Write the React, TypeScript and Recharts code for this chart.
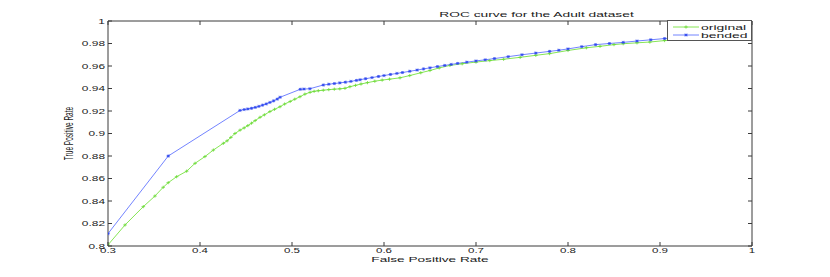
import React from "react";
import { LineChart, Line, XAxis, YAxis, ReferenceArea, Legend } from "recharts";

const xTicks = [0.3, 0.4, 0.5, 0.6, 0.7, 0.8, 0.9, 1];
const yTicks = [0.8, 0.82, 0.84, 0.86, 0.88, 0.9, 0.92, 0.94, 0.96, 0.98, 1];

const originalFpr = [
  0.3, 0.3185, 0.3384, 0.351, 0.36, 0.3655, 0.3746, 0.3855, 0.3946, 0.4054, 0.4145, 0.4254,
  0.4295, 0.4335, 0.438, 0.4435, 0.448, 0.452, 0.456, 0.46, 0.4652, 0.47, 0.476, 0.481, 0.487,
  0.492, 0.498, 0.503, 0.5087, 0.514, 0.5196, 0.524, 0.5286, 0.534, 0.54, 0.546, 0.552, 0.5576,
  0.563, 0.569, 0.575, 0.582, 0.59, 0.598, 0.606, 0.6174, 0.628, 0.64, 0.65, 0.66, 0.6717, 0.685,
  0.7, 0.715, 0.73, 0.748, 0.765, 0.78, 0.8, 0.82, 0.8348, 0.85, 0.86, 0.875, 0.889, 0.905, 0.92,
  0.95, 1.0,
];
const originalTpr = [
  0.801, 0.8187, 0.835, 0.8444, 0.8522, 0.8563, 0.8616, 0.8665, 0.8735, 0.8795, 0.8853, 0.8913,
  0.8935, 0.8965, 0.9, 0.903, 0.905, 0.907, 0.9092, 0.9115, 0.9144, 0.9166, 0.9195, 0.9215, 0.9238,
  0.9262, 0.9285, 0.9305, 0.9327, 0.935, 0.9366, 0.9375, 0.938, 0.9385, 0.939, 0.9394, 0.9397, 0.9402,
  0.9416, 0.9428, 0.944, 0.9452, 0.9465, 0.9475, 0.9483, 0.9495, 0.9515, 0.954, 0.956, 0.9583, 0.9605, 0.962,
  0.9635, 0.9648, 0.966, 0.9677, 0.9695, 0.971, 0.9738, 0.9762, 0.9775, 0.979, 0.9798, 0.9806, 0.9813, 0.9826, 0.984,
  0.987, 0.991,
];

const bendedFpr = [
  0.3, 0.3655, 0.4435, 0.448, 0.452, 0.456, 0.46, 0.464, 0.468, 0.472, 0.476, 0.48, 0.484, 0.487,
  0.509, 0.513, 0.5195, 0.534, 0.54, 0.546, 0.552, 0.558, 0.564, 0.57, 0.574, 0.58, 0.587, 0.594,
  0.6, 0.607, 0.614, 0.62, 0.628, 0.636, 0.643, 0.65, 0.658, 0.666, 0.673, 0.68, 0.69, 0.7, 0.71,
  0.72, 0.735, 0.75, 0.765, 0.78, 0.79, 0.8, 0.815, 0.83, 0.845, 0.86, 0.875, 0.89, 0.905, 0.92,
  0.95, 1.0,
];
const bendedTpr = [
  0.811, 0.88, 0.9205, 0.9213, 0.9218, 0.9224, 0.9232, 0.9241, 0.9252, 0.9263, 0.9276, 0.929, 0.9306, 0.9322,
  0.9393, 0.9395, 0.9398, 0.9431, 0.9438, 0.9444, 0.945, 0.9456, 0.9463, 0.9472, 0.9478, 0.9487, 0.9497, 0.9507,
  0.9515, 0.9525, 0.9534, 0.9542, 0.9553, 0.9564, 0.9574, 0.9584, 0.9595, 0.9605, 0.9614, 0.9623, 0.9634, 0.9645, 0.9655,
  0.9666, 0.9683, 0.97, 0.9715, 0.973, 0.974, 0.9752, 0.9772, 0.979, 0.98, 0.981, 0.9822, 0.9833, 0.9844, 0.9855,
  0.9875, 0.991,
];

const originalData = originalFpr.map((fpr, i) => ({ fpr, tpr: originalTpr[i] }));
const bendedData = bendedFpr.map((fpr, i) => ({ fpr, tpr: bendedTpr[i] }));

const FONT = '"Liberation Sans", Arial, Helvetica, sans-serif';
const TEXT = "#1a1a1a";
const AXIS = "#3a3a3a";
const GREEN_LINE = "#86e655";
const GREEN_MARK = "#6ad935";
const BLUE_LINE = "#7384ff";
const BLUE_MARK = "#3049ee";

// plot box in page pixels
const BOX = { left: 108, top: 21, right: 752, bottom: 246 };

const fmt = (v: number) => String(Number(v.toFixed(2)));

const XTick = ({ x, payload }: any) => (
  <g>
    <line x1={x} y1={BOX.bottom} x2={x} y2={BOX.bottom - 4} stroke={AXIS} />
    <line x1={x} y1={BOX.top} x2={x} y2={BOX.top + 4} stroke={AXIS} />
    <text
      transform={`translate(${x},252.5) scale(1.65,1)`}
      textAnchor="middle"
      fontSize={7}
      fontFamily={FONT}
      fill={TEXT}
    >
      {fmt(payload.value)}
    </text>
  </g>
);

const YTick = ({ y, payload }: any) => (
  <g>
    <line x1={BOX.left} y1={y} x2={BOX.left + 4} y2={y} stroke={AXIS} />
    <line x1={BOX.right} y1={y} x2={BOX.right - 4} y2={y} stroke={AXIS} />
    <text
      transform={`translate(${BOX.left - 3},${y + 2.5}) scale(1.7,1)`}
      textAnchor="end"
      fontSize={7}
      fontFamily={FONT}
      fill={TEXT}
    >
      {fmt(payload.value)}
    </text>
  </g>
);

const PlusDot = ({ cx, cy }: any) => (
  <path d={`M${cx - 1.8},${cy}H${cx + 1.8}M${cx},${cy - 1.6}V${cy + 1.6}`} stroke={GREEN_MARK} strokeWidth={0.8} />
);

const StarDot = ({ cx, cy }: any) => (
  <path
    d={`M${cx - 1.8},${cy}H${cx + 1.8}M${cx},${cy - 1.5}V${cy + 1.5}M${cx - 1.3},${cy - 1.1}L${cx + 1.3},${cy + 1.1}M${cx - 1.3},${cy + 1.1}L${cx + 1.3},${cy - 1.1}`}
    stroke={BLUE_MARK}
    strokeWidth={0.8}
  />
);

const LegendBox = () => (
  <svg width={85} height={21} style={{ display: "block" }}>
    <rect x={0.5} y={0.5} width={84} height={20} fill="#fff" stroke="#555" />
    <line x1={6} y1={7} x2={32} y2={7} stroke={GREEN_LINE} />
    <PlusDot cx={19} cy={7} />
    <text transform="translate(34,9.6) scale(2,1)" fontSize={7} fontFamily={FONT} fill={TEXT}>
      original
    </text>
    <line x1={6} y1={15} x2={32} y2={15} stroke={BLUE_LINE} />
    <StarDot cx={19} cy={15} />
    <text transform="translate(34,17.6) scale(2,1)" fontSize={7} fontFamily={FONT} fill={TEXT}>
      bended
    </text>
  </svg>
);

const XLabel = () => (
  <text
    transform={`translate(${(BOX.left + BOX.right) / 2},261.5) scale(1.95,1)`}
    textAnchor="middle"
    fontSize={7}
    fontFamily={FONT}
    fill={TEXT}
  >
    False Positive Rate
  </text>
);

const YLabel = () => (
  <text
    transform="translate(73,133.5) rotate(-90) scale(0.93,1.95)"
    textAnchor="middle"
    fontSize={7}
    fontFamily={FONT}
    fill={TEXT}
  >
    True Positive Rate
  </text>
);

const Title = () => (
  <text
    transform="translate(536.5,17) scale(1.97,1)"
    textAnchor="middle"
    fontSize={7}
    fontFamily={FONT}
    fill={TEXT}
  >
    ROC curve for the Adult dataset
  </text>
);

export default function App() {
  return (
    <div style={{ position: "absolute", left: 0, top: 0, width: 830, height: 277, background: "#fff" }}>
      <LineChart
        width={830}
        height={277}
        margin={{ top: BOX.top, right: 830 - BOX.right, bottom: 11, left: BOX.left - 40 }}
      >
        <XAxis
          dataKey="fpr"
          type="number"
          domain={[0.3, 1]}
          ticks={xTicks}
          interval={0}
          allowDataOverflow
          height={20}
          axisLine={false}
          tickLine={false}
          tickSize={0}
          tick={(p: any) => <XTick {...p} />}
          label={{ content: () => <XLabel /> }}
        />
        <YAxis
          type="number"
          domain={[0.8, 1]}
          ticks={yTicks}
          interval={0}
          allowDataOverflow
          width={40}
          axisLine={false}
          tickLine={false}
          tickSize={0}
          tick={(p: any) => <YTick {...p} />}
          label={{ content: () => <YLabel /> }}
        />
        <ReferenceArea
          x1={0.3}
          x2={1}
          y1={0.8}
          y2={1}
          fill="none"
          fillOpacity={0}
          stroke={AXIS}
          strokeWidth={1}
          ifOverflow="visible"
          label={{ content: () => <Title /> }}
        />
        <Line
          data={originalData}
          dataKey="tpr"
          name="original"
          stroke={GREEN_LINE}
          strokeWidth={1}
          dot={(p: any) => <PlusDot key={`g-${p.index}`} cx={p.cx} cy={p.cy} />}
          activeDot={false}
          isAnimationActive={false}
        />
        <Line
          data={bendedData}
          dataKey="tpr"
          name="bended"
          stroke={BLUE_LINE}
          strokeWidth={1}
          dot={(p: any) => <StarDot key={`b-${p.index}`} cx={p.cx} cy={p.cy} />}
          activeDot={false}
          isAnimationActive={false}
        />
        <Legend
          layout="horizontal"
          verticalAlign="middle"
          align="center"
          content={() => <LegendBox />}
          wrapperStyle={{ position: "absolute", left: 667, top: 20, width: 85, height: 21, margin: 0, padding: 0, lineHeight: 0 }}
        />
      </LineChart>
    </div>
  );
}
